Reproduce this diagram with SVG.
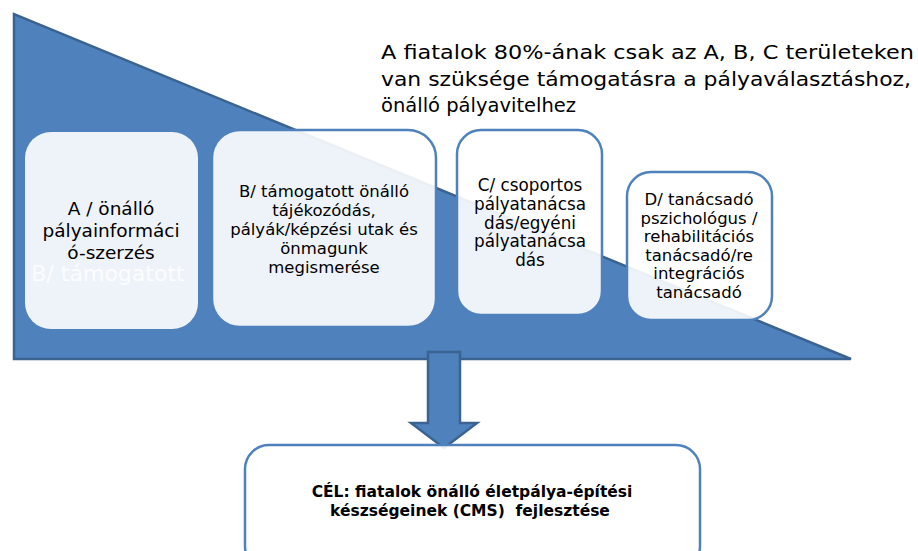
<svg xmlns="http://www.w3.org/2000/svg" width="918" height="551" viewBox="0 0 918 551">
<style>
.shape{fill:#4F81BD;stroke:#3A6391;stroke-width:2.5;stroke-linejoin:miter}
.box{fill:#FFFFFF;fill-opacity:0.9;stroke:#4F81BD;stroke-width:2.5}
.t{font-family:"DejaVu Sans","Noto Sans",sans-serif;fill:#000;text-anchor:middle}
</style>
<rect width="918" height="551" fill="#FFFFFF"/>
<g id="triangle"><path class="shape" d="M14,14 L14,359 L851,359 Z"/></g>
<g id="note">
<text class="t" style="text-anchor:start" font-size="19.5" x="381" y="59" textLength="533" lengthAdjust="spacingAndGlyphs">A fiatalok 80%-ának csak az A, B, C területeken</text>
<text class="t" style="text-anchor:start" font-size="19.5" x="381" y="86" textLength="530" lengthAdjust="spacingAndGlyphs">van szüksége támogatásra a pályaválasztáshoz,</text>
<text class="t" style="text-anchor:start" font-size="19.5" x="381" y="112">önálló pályavitelhez</text>
</g>
<g id="connectors">
<path class="shape" d="M428,352 L460,352 L460,423 L477,423 L444,448 L411,423 L428,423 Z"/>
</g>
<g id="boxA">
<rect class="box" x="25" y="132" width="173" height="197" rx="26" style="stroke:none"/>
<text class="t" font-size="18.5" x="111" y="215">A / önálló</text>
<text class="t" font-size="18.5" x="111" y="237">pályainformáci</text>
<text class="t" font-size="18.5" x="111" y="259">ó-szerzés</text>
<text class="t" font-size="22" x="108" y="281" style="fill:#FFFFFF;fill-opacity:0.85">B/ támogatott</text>
</g>
<g id="boxB">
<rect class="box" x="212" y="130" width="224" height="197" rx="28"/>
<text class="t" font-size="16.5" x="324" y="197">B/ támogatott önálló</text>
<text class="t" font-size="16.5" x="324" y="216">tájékozódás,</text>
<text class="t" font-size="16.5" x="324" y="235">pályák/képzési utak és</text>
<text class="t" font-size="16.5" x="324" y="254">önmagunk</text>
<text class="t" font-size="16.5" x="324" y="273">megismerése</text>
</g>
<g id="boxC">
<rect class="box" x="457" y="130" width="145" height="185" rx="24"/>
<text class="t" font-size="16.8" x="530" y="191">C/ csoportos</text>
<text class="t" font-size="16.8" x="530" y="210">pályatanácsa</text>
<text class="t" font-size="16.8" x="530" y="228.5">dás/egyéni</text>
<text class="t" font-size="16.8" x="530" y="247">pályatanácsa</text>
<text class="t" font-size="16.8" x="530" y="265.5">dás</text>
</g>
<g id="boxD">
<rect class="box" x="627" y="172" width="145" height="148" rx="24"/>
<text class="t" font-size="16.5" x="699" y="205">D/ tanácsadó</text>
<text class="t" font-size="16.5" x="699" y="223.5">pszichológus /</text>
<text class="t" font-size="16.5" x="699" y="242">rehabilitációs</text>
<text class="t" font-size="16.5" x="699" y="260.5">tanácsadó/re</text>
<text class="t" font-size="16.5" x="699" y="279">integrációs</text>
<text class="t" font-size="16.5" x="699" y="297.5">tanácsadó</text>
</g>
<g id="goal">
<rect class="box" x="245" y="445" width="455" height="125" rx="24"/>
<text class="t" font-size="15.5" font-weight="bold" x="472" y="497">CÉL: fiatalok önálló életpálya-építési</text>
<text class="t" font-size="15.5" font-weight="bold" x="470" y="516">készségeinek (CMS)&#160; fejlesztése</text>
</g>
</svg>
